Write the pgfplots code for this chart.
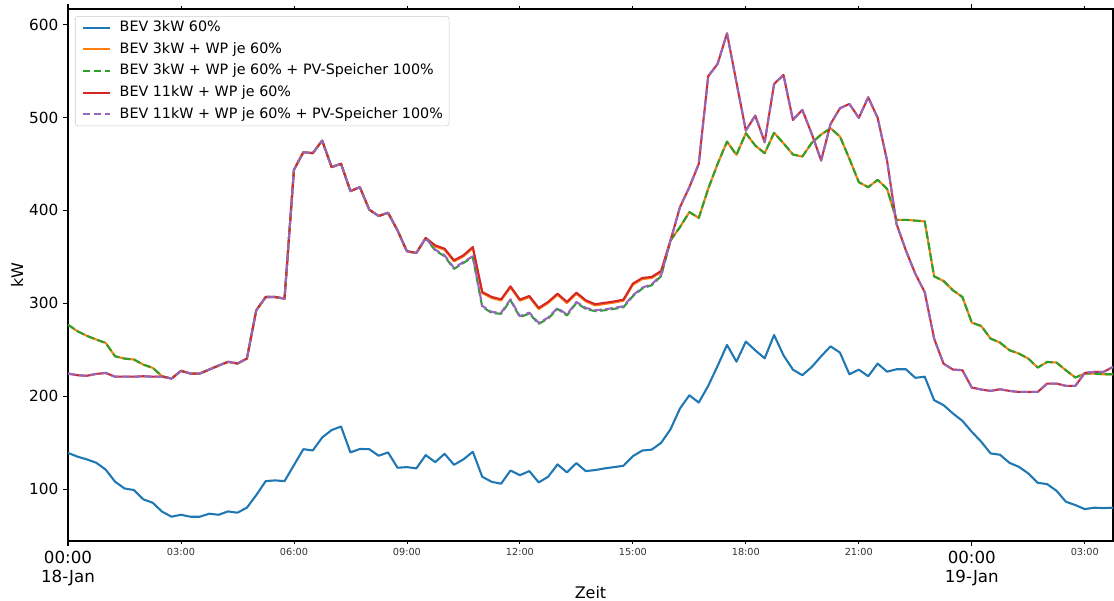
\documentclass[border=0pt]{standalone}
\usepackage{fontspec}
\setmainfont{DejaVu Sans}
\usepackage{pgfplots}
\usepackage{pgfplotstable}
\pgfplotsset{compat=1.18}
\definecolor{c0}{HTML}{1F77B4}
\definecolor{c1}{HTML}{FF7F0E}
\definecolor{c2}{HTML}{2CA02C}
\definecolor{c3}{HTML}{D62728}
\definecolor{c4}{HTML}{9467BD}

\pgfplotstableread{
h blue c3 c3pv c11 c11pv
0 139 277 277 224.4 224.4
0.25 135 270 270 222.6 222.6
0.5 132 265 265 222 222
0.75 128.4 261 261 224 224
1 121 257.4 257.4 225 225
1.25 108 243 243 221 221
1.5 100.7 240.5 240.5 221 221
1.75 99 239.5 239.5 221 221
2 89 234 234 221.5 221.5
2.25 85.3 230.5 230.5 221 221
2.5 75.7 221.5 221.5 221 221
2.75 70.3 219 219 219 219
3 72.4 227.3 227.3 227.3 227.3
3.25 70.3 224.4 224.4 224.4 224.4
3.5 70.3 224.4 224.4 224.4 224.4
3.75 73.5 228.7 228.7 228.7 228.7
4 72.4 233 233 233 233
4.25 76 237 237 237 237
4.5 74.6 235.2 235.2 235.2 235.2
4.75 80 240.5 240.5 240.5 240.5
5 93.6 292.5 292.5 292.5 292.5
5.25 108.6 306.8 306.8 306.8 306.8
5.5 109.4 306.8 306.8 306.8 306.8
5.75 108.6 305 305 305 305
6 125.8 443.7 443.7 443.7 443.7
6.25 143 462.7 462.7 462.7 462.7
6.5 141.6 461.6 461.6 461.6 461.6
6.75 155.6 475.2 475.2 475.2 475.2
7 163.5 446.6 446.6 446.6 446.6
7.25 167.4 450.2 450.2 450.2 450.2
7.5 139.5 420.8 420.8 420.8 420.8
7.75 143.2 425 425 425 425
8 143 400.8 400.8 400.8 400.8
8.25 135.9 394 394 394 394
8.5 139.5 397.5 397.5 397.5 397.5
8.75 123 378.5 378.5 378.5 378.5
9 123.7 356 356 356 356
9.25 122.3 354.2 354.2 354.2 354.2
9.5 136.6 370.3 370.3 370.3 370.3
9.75 129 361.2 356.8 362.4 357.8
10 138 357.6 350.7 358.8 351.7
10.25 126.2 345.1 337 346.3 338
10.5 132 350.5 343.5 351.7 344.5
10.75 140.2 359.4 349.6 360.6 350.6
11 113.3 311 296.2 312.2 297.2
11.25 107.9 305.7 289.7 306.9 290.7
11.5 105.8 303.1 288.7 304.3 289.7
11.75 120 317.1 303.3 318.3 304.3
12 115 302.8 285.1 304 286.1
12.25 119.4 306.7 289 307.9 290
12.5 107.2 293.8 277.9 295 278.9
12.75 113.3 300.3 283.6 301.5 284.6
13 126.6 309.2 294 310.4 295
13.25 118 300.3 286.9 301.5 287.9
13.5 128 310.3 300.5 311.5 301.5
13.75 119.4 302.1 294 303.3 295
14 120.5 297.8 291.5 299 292.5
14.25 122.3 299.3 292.5 300.5 293.5
14.5 123.7 300.8 294 302 295
14.75 125.1 302.8 295.8 304 296.8
15 135.5 320 307.7 321.2 308.7
15.25 141.5 326.1 315.9 327.3 316.9
15.5 142.5 327.2 319.5 328.4 320.5
15.75 149.8 333.6 329.2 334.8 330.2
16 164.5 367.7 367.7 367.7 367.7
16.25 186.7 382 382 403.5 403.5
16.5 201 398.2 398.2 425 425
16.75 193.2 392 392 450.1 450.1
17 211.1 423.2 423.2 544.4 544.4
17.25 232.6 450.1 450.1 557.7 557.7
17.5 255.2 474.1 474.1 590.6 590.6
17.75 237.2 459.8 459.8 537.9 537.9
18 258.8 483.1 483.1 486 486
18.25 249.4 469.8 469.8 502.1 502.1
18.5 240.8 461.6 461.6 473.4 473.4
18.75 265.9 483.5 483.5 536.1 536.1
19 244 472.3 472.3 545.8 545.8
19.25 228.6 460.2 460.2 497.4 497.4
19.5 222.6 458 458 508.2 508.2
19.75 231.5 472.7 472.7 482.4 482.4
20 243 481.7 481.7 453.7 453.7
20.25 253.7 488.5 488.5 493.1 493.1
20.5 246.9 479.5 479.5 510 510
20.75 223.6 455.5 455.5 514.6 514.6
21 228.6 430.4 430.4 499.6 499.6
21.25 221.5 425 425 521.8 521.8
21.5 235.1 432.9 432.9 499.6 499.6
21.75 226.4 423.2 423.2 453.7 453.7
22 229 389.9 389.9 385.6 385.6
22.25 229 389.9 389.9 356.9 356.9
22.5 219.8 389 389 331.8 331.8
22.75 221 388.2 388.2 312 312
23 195.7 329 329 262 262
23.25 190.4 324 324 235 235
23.5 181.4 314 314 228.7 228.7
23.75 173.5 306.8 306.8 228 228
24 161.7 279.2 279.2 209.3 209.3
24.25 151 275.6 275.6 207.2 207.2
24.5 138.4 262 262 205.7 205.7
24.75 137 257.7 257.7 207.5 207.5
25 128.3 249.5 249.5 205.7 205.7
25.25 124 245.9 245.9 204.6 204.6
25.5 116.9 240.5 240.5 204.6 204.6
25.75 106.8 230.8 230.8 204.6 204.6
26 105.4 236.9 236.9 213.6 213.6
26.25 98.2 236.2 236.2 213.6 213.6
26.5 86.4 227.9 227.9 211.1 211.1
26.75 82.8 220.1 220.1 211.1 211.1
27 78.5 224.4 224.4 225.1 225.1
27.25 80 224.4 224.4 226.2 226.2
27.5 79.6 223.6 223.6 226.2 226.2
27.75 80 223.6 223.6 231.5 231.5
}\data

\begin{document}
\begin{tikzpicture}
\begin{axis}[
  scale only axis,
  width=752.4pt, height=383pt,
  xmin=0, xmax=27.75, ymin=44.2, ymax=616.8,
  axis line style={line width=0.8pt},
  tick align=outside,
  major tick length=3.5pt,
  every tick/.style={black, line width=0.8pt},
  xtick={0,24},
  xticklabels={{00:00\\18-Jan},{00:00\\19-Jan}},
  xticklabel style={font=\fontsize{12}{14}\selectfont, align=center},
  extra x ticks={3,6,9,12,15,18,21,27},
  extra x tick labels={03:00,06:00,09:00,12:00,15:00,18:00,21:00,03:00},
  extra x tick style={major tick length=2pt, every tick/.style={black, line width=0.6pt},
     xticklabel style={font=\fontsize{7}{8}\selectfont, text=black!80}},
  ytick={100,200,300,400,500,600},
  yticklabel style={font=\fontsize{11}{13}\selectfont},
  /pgf/number format/assume math mode=true,
  xlabel={Zeit}, ylabel={kW},
  xlabel style={font=\fontsize{11.5}{13}\selectfont, at={(axis description cs:0.5,-0.0977)}, anchor=center},
  ylabel style={font=\fontsize{11.5}{13}\selectfont, at={(axis description cs:-0.0488,0.5)}, anchor=center},
  legend style={at={(axis description cs:0.0067,0.9868)}, anchor=north west,
     draw=black!20, rounded corners=2pt, fill=white, fill opacity=0.8, text opacity=1,
     font=\fontsize{10.3}{12}\selectfont, inner xsep=4.5pt, inner ysep=3.5pt,
     row sep=6.1pt,
     nodes={inner sep=0pt, text height=7.5pt, text depth=2pt}},
  legend cell align=left,
  legend image code/.code={\draw[#1] (0pt,0pt) -- (20pt,0pt);},
  every axis plot/.append style={line width=1.5pt, line join=round},
]
\addplot[c0] table[x=h, y=blue] {\data};
\addlegendentry{\hspace{6pt}BEV 3kW 60\%}
\addplot[c1] table[x=h, y=c3] {\data};
\addlegendentry{\hspace{6pt}BEV 3kW + WP je 60\%}
\addplot[c2, dash pattern=on 5.55pt off 2.4pt] table[x=h, y=c3pv] {\data};
\addlegendentry{\hspace{6pt}BEV 3kW + WP je 60\% + PV-Speicher 100\%}
\addplot[c3] table[x=h, y=c11] {\data};
\addlegendentry{\hspace{6pt}BEV 11kW + WP je 60\%}
\addplot[c4, dash pattern=on 5.55pt off 2.4pt] table[x=h, y=c11pv] {\data};
\addlegendentry{\hspace{6pt}BEV 11kW + WP je 60\% + PV-Speicher 100\%}
\end{axis}
\pgfresetboundingbox
\path[use as bounding box] ([xshift=-48.96pt,yshift=-43.2pt]current axis.south west) rectangle ([xshift=0.72pt,yshift=6.48pt]current axis.north east);
\end{tikzpicture}
\end{document}
